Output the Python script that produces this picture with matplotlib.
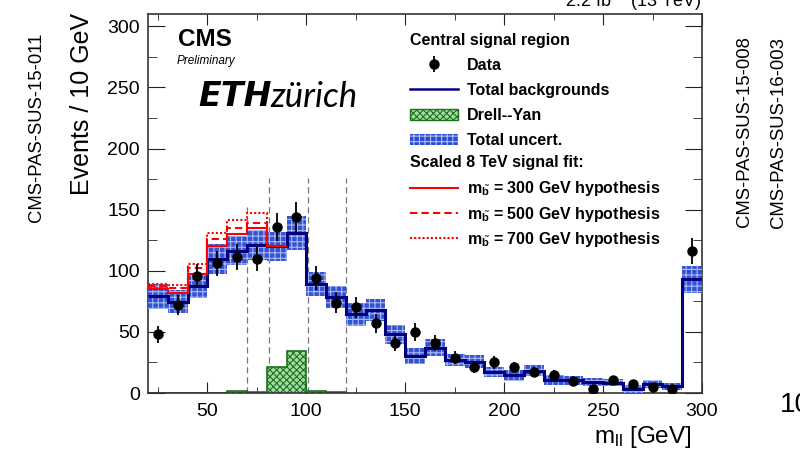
import numpy as np
import matplotlib
matplotlib.use('Agg')
import matplotlib.pyplot as plt
from matplotlib.patches import Patch
from matplotlib.lines import Line2D

plt.rcParams['font.family'] = ['Liberation Sans', 'DejaVu Sans']
plt.rcParams['mathtext.fontset'] = 'custom'
plt.rcParams['mathtext.rm'] = 'Liberation Sans'
plt.rcParams['mathtext.it'] = 'Liberation Sans:italic'
plt.rcParams['mathtext.bf'] = 'Liberation Sans:bold'

# ---- data ----
edges = np.arange(20, 301, 10)
data = [48, 72, 96, 106, 111, 110, 136, 144, 94, 74, 70, 57, 41, 50, 41, 29,
        21, 25, 21, 17, 15, 10, 3, 11, 7, 5, 3, 116]
bkg = [79, 74.6, 87.5, 109.6, 116.4, 121, 120, 131, 89.3, 78.7, 64.5, 68, 48,
       30.3, 36.9, 27, 25.7, 17.2, 14.5, 18.3, 10.7, 10.4, 9, 8.5, 3, 7.4, 5.5, 93]
unc = [10, 9.5, 10, 12, 12, 12, 12, 14, 10, 9, 9.3, 9, 7.8, 6.4, 7, 5.2, 5.5,
       4, 4.4, 4.5, 4, 3.5, 3.5, 3, 3.5, 3, 3, 11]
dy_edges = np.arange(20, 121, 10)
dy = [0.3, 0.3, 0.3, 0.4, 1.5, 1, 21, 34, 1.5, 0.8]
sig_edges = np.arange(20, 91, 10)
sig300 = [85, 82, 97.5, 120.7, 130, 135, 120]
sig500 = [87.7, 85.8, 102, 126, 134.7, 139.3, 120]
sig700 = [89, 88.3, 105.5, 131, 141.8, 147, 120]
cut_lines = [70, 81, 101, 120]
cut_tops = [152, 176, 176, 176]

data = np.array(data, float)
bkg = np.array(bkg, float)
unc = np.array(unc, float)
centers = 0.5 * (edges[:-1] + edges[1:])

fig = plt.figure(figsize=(8, 4.57), dpi=100)
ax = fig.add_axes([0.185, 0.140, 0.6925, 0.829])

navy = '#000080'
band_c = '#2b4bd0'
hatch_c = '#aebff8'
dy_face = '#a6d9a6'
dy_edge = '#1a741a'
plt.rcParams['hatch.linewidth'] = 0.8

# cut lines
for xv, top in zip(cut_lines, cut_tops):
    ax.plot([xv, xv], [0, top], ls=(0, (5, 3)), color='#777777', lw=0.9, zorder=1)

# DY
ax.stairs(dy, dy_edges, fill=True, facecolor=dy_face, edgecolor=dy_edge,
          hatch='xxxxx', linewidth=0, zorder=2)
ax.stairs(dy, dy_edges, fill=False, edgecolor=dy_edge, linewidth=1.2, zorder=2.1)

# uncertainty band
ax.stairs(bkg + unc, edges, baseline=bkg - unc, fill=True, facecolor=band_c,
          edgecolor=hatch_c, hatch='+++', linewidth=0, alpha=0.95, zorder=3)

# total background
ax.stairs(bkg, edges, baseline=None, color=navy, linewidth=2.2, zorder=4)

# signals
ax.stairs(sig300, sig_edges, baseline=None, color='red', linewidth=1.5, zorder=5)
ax.stairs(sig500, sig_edges, baseline=None, color='red', linewidth=1.5,
          linestyle=(0, (3.5, 2)), zorder=5)
ax.stairs(sig700, sig_edges, baseline=None, color='red', linewidth=1.5,
          linestyle=(0, (1, 1)), zorder=5)

# data
eb = ax.errorbar(centers, data, yerr=np.sqrt(data), fmt='o', color='black',
                 ms=6.5, elinewidth=1.3, capsize=0, zorder=6)

ax.set_xlim(20, 300)
ax.set_ylim(0, 310)
ax.set_xticks(np.arange(50, 301, 50))
ax.set_xticks(np.arange(25, 301, 25), minor=True)
ax.set_yticks(np.arange(0, 301, 50))
ax.set_yticks(np.arange(0, 301, 25), minor=True)
ax.tick_params(axis='both', which='both', direction='in', top=True, right=True,
               color='#222222', labelsize=14)
ax.tick_params(axis='x', which='major', length=8, pad=7)
ax.tick_params(axis='x', which='minor', length=4)
ax.tick_params(axis='y', which='major', length=12.5, pad=6)
ax.tick_params(axis='y', which='minor', length=6.3)
for s in ax.spines.values():
    s.set_color('#333333')
    s.set_linewidth(1.2)

# texts
fig.text(82 / 800, 1 - 13 / 457, 'Events / 10 GeV', rotation=90, ha='center',
         va='top', fontsize=18)
fig.text(692 / 800, 1 - 437 / 457, r'm$_{\mathregular{ll}}$ [GeV]', ha='right',
         va='center', fontsize=17.5)
fig.text(0.876, 1 - 7 / 457, r'2.2 fb$^{\mathregular{-1}}$ (13 TeV)', ha='right',
         va='baseline', fontsize=13)
fig.text(37 / 800, 1 - 127 / 457, 'CMS-PAS-SUS-15-011', rotation=90, ha='center',
         va='center', fontsize=13.3)
fig.text(745 / 800, 1 - 132 / 457, 'CMS-PAS-SUS-15-008', rotation=90, ha='center',
         va='center', fontsize=13.3)
fig.text(778 / 800, 1 - 132 / 457, 'CMS-PAS-SUS-16-003', rotation=90, ha='center',
         va='center', fontsize=13.3)
fig.text(780 / 800, 1 - 405 / 457, '10', ha='left', va='center', fontsize=20)

fig.text(178 / 800, 1 - 40 / 457, 'CMS', ha='left', va='center', fontsize=17.5,
         fontweight='bold')
fig.text(177 / 800, 1 - 61 / 457, 'Preliminary', ha='left', va='center',
         fontsize=8.5, fontstyle='italic')
fig.text(198 / 800, 1 - 97 / 457, 'ETH', ha='left', va='center', fontsize=24,
         fontweight='heavy', fontstyle='italic', family='DejaVu Sans')
fig.text(270 / 800, 1 - 97 / 457, 'zürich', ha='left', va='center', fontsize=25,
         fontstyle='italic', fontweight='normal', family=['Lato', 'DejaVu Sans'])

# legends
fs = 11.5
h_bkg = Line2D([], [], color=navy, lw=1.8)
h_dy = Patch(facecolor=dy_face, edgecolor=dy_edge, hatch='xxxxx', lw=1)
h_unc = Patch(facecolor=band_c, edgecolor=hatch_c, hatch='+++', lw=0)
leg1 = ax.legend([eb, h_bkg, h_dy, h_unc],
                 ['Data', 'Total backgrounds', 'Drell--Yan', 'Total uncert.'],
                 title='Central signal region', loc='upper left',
                 bbox_to_anchor=(0.467, 0.960), frameon=False,
                 prop={'weight': 'bold', 'size': fs}, alignment='left',
                 handlelength=3.0, handletextpad=0.56, labelspacing=0.63,
                 borderaxespad=0, borderpad=0.2)
leg1.get_title().set_fontweight('bold')
leg1.get_title().set_fontsize(fs)
ax.add_artist(leg1)

h3 = Line2D([], [], color='red', lw=1.5)
h5 = Line2D([], [], color='red', lw=1.5, ls=(0, (3.5, 2)))
h7 = Line2D([], [], color='red', lw=1.5, ls=(0, (1, 1)))
lab = r'm$_{\tilde{\mathregular{b}}}$ = %d GeV hypothesis'
leg2 = ax.legend([h3, h5, h7], [lab % 300, lab % 500, lab % 700],
                 title='Scaled 8 TeV signal fit:', loc='upper left',
                 bbox_to_anchor=(0.467, 0.638), frameon=False,
                 prop={'weight': 'bold', 'size': fs}, alignment='left',
                 handlelength=3.0, handletextpad=0.56, labelspacing=0.4,
                 borderaxespad=0, borderpad=0.2)
leg2.get_title().set_fontweight('bold')
leg2.get_title().set_fontsize(fs)
leg2._legend_box.sep = 7

fig.savefig('out.png', dpi=100)
